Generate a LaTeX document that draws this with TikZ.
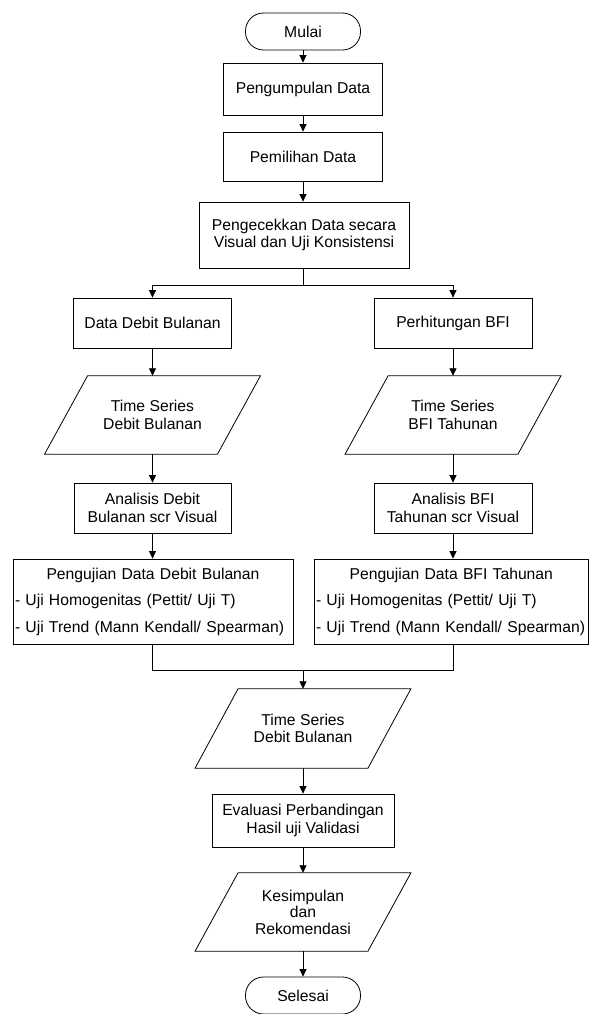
\documentclass[tikz,border=0pt]{standalone}
\usepackage{fontspec}
\setmainfont{Liberation Sans}
\usetikzlibrary{arrows.meta,calc}
\begin{document}
\begin{tikzpicture}[x=1pt,y=1pt,
  txt/.style={font=\fontsize{15.7}{17.5}\selectfont},
  base/.style={txt, draw=black, line width=0.8pt, inner sep=1pt, align=center},
  proc/.style={base, rectangle},
  term/.style={base, rounded corners=18pt, minimum width=115pt, minimum height=37pt},
  io/.style={txt, inner sep=0pt, align=center, minimum width=172.5pt},
  testbox/.style={draw=black, line width=0.8pt, inner xsep=2pt, inner ysep=0pt,
    text width=276pt, minimum height=85pt, font=\fontsize{15.7}{26.5}\selectfont},
  conn/.style={line width=0.8pt},
  arr/.style={conn, -{Triangle[length=7.5pt,width=7pt]}}]
\useasboundingbox (0,0) rectangle (589,-1014);

\node[term] (mulai) at (303,-31.5) {Mulai};
\node[proc, minimum width=159pt, minimum height=52pt] (p1) at (303,-89) {Pengumpulan Data};
\node[proc, minimum width=159pt, minimum height=49pt] (p2) at (303,-156.5) {Pemilihan Data};
\node[proc, minimum width=210pt, minimum height=66pt] (p3) at (304,-235) {Pengecekkan Data secara\\Visual dan Uji Konsistensi};
\coordinate (split) at (303,-285);

\node[proc, minimum width=158pt, minimum height=50pt] (dd) at (152.5,-323) {Data Debit Bulanan};
\node[proc, minimum width=158pt, minimum height=50pt] (bfi) at (453,-323) {Perhitungan BFI};
\node[io, minimum height=78pt] (ts1) at (152.5,-415) {Time Series\\Debit Bulanan};
\node[io, minimum height=78pt] (ts2) at (453,-415) {Time Series\\BFI Tahunan};
\node[proc, minimum width=157pt, minimum height=50pt] (an1) at (152.5,-508) {Analisis Debit\\Bulanan scr Visual};
\node[proc, minimum width=158pt, minimum height=50pt] (an2) at (453,-508) {Analisis BFI\\Tahunan scr Visual};

\node[testbox] (pj1) at (153,-601.5) {\centering Pengujian Data Debit Bulanan\par\raggedright - Uji Homogenitas (Pettit/ Uji T)\par - Uji Trend (Mann Kendall/ Spearman)\par};
\node[testbox, text width=270.5pt] (pj2) at (451.25,-601.5) {\centering Pengujian Data BFI Tahunan\par\raggedright - Uji Homogenitas (Pettit/ Uji T)\par - Uji Trend (Mann Kendall/ Spearman)\par};
\coordinate (merge) at (303,-670);

\node[io, minimum height=79pt] (ts3) at (303,-728.5) {Time Series\\Debit Bulanan};
\node[proc, minimum width=182pt, minimum height=53pt] (ev) at (303,-820.5) {Evaluasi Perbandingan\\Hasil uji Validasi};
\node[io, minimum height=78pt, font=\fontsize{15.7}{16.5}\selectfont] (kes) at (303,-912) {Kesimpulan\\dan\\Rekomendasi};
\node[term] (sel) at (303,-995.5) {Selesai};

\foreach \n in {ts1,ts2,ts3,kes}
  \draw[conn] ([xshift=21.5pt]\n.north west) -- ([xshift=21.5pt]\n.north east)
    -- ([xshift=-21.5pt]\n.south east) -- ([xshift=-21.5pt]\n.south west) -- cycle;

\draw[arr] (mulai) -- (p1);
\draw[arr] (p1) -- (p2);
\draw[arr] (p2.south) -- (p2.south |- p3.north);
\draw[conn] (p3.south -| split) -- (split);
\draw[arr] (split) -| (dd.north);
\draw[arr] (split) -| (bfi.north);
\draw[arr] (dd) -- (ts1);
\draw[arr] (ts1) -- (an1);
\draw[arr] (an1.south) -- (an1.south |- pj1.north);
\draw[arr] (bfi) -- (ts2);
\draw[arr] (ts2) -- (an2);
\draw[arr] (an2.south) -- (an2.south |- pj2.north);
\draw[conn] (pj1.south -| an1.south) |- (merge);
\draw[conn] (pj2.south -| an2.south) |- (merge);
\draw[arr] (merge) -- (ts3.north);
\draw[arr] (ts3) -- (ev);
\draw[arr] (ev) -- (kes);
\draw[arr] (kes) -- (sel);
\end{tikzpicture}
\end{document}
